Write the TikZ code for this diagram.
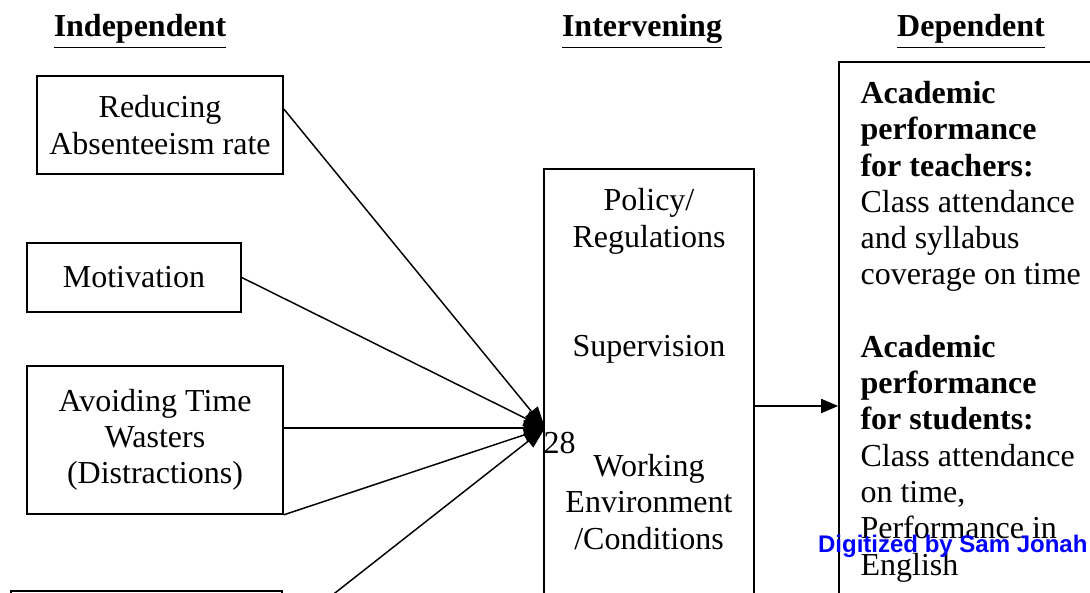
\documentclass[tikz,border=0pt]{standalone}
\usepackage{fontspec}
\setmainfont{Liberation Serif}
\setsansfont{Liberation Sans}
\usetikzlibrary{arrows.meta}

\begin{document}
\begin{tikzpicture}[x=0.375pt,y=-0.375pt,
    font=\fontsize{12}{13.6}\selectfont,
    head/.style={font=\fontsize{12}{13.6}\selectfont\bfseries,inner sep=0pt},
    box/.style={draw,line width=0.6pt,inner sep=0pt,align=center},
    txt/.style={inner sep=0pt,align=center},
    link/.style={line width=0.55pt},
    feed/.style={link,-{Triangle[length=8pt,width=6pt]}},
    lead/.style={link,-{Triangle[length=6.4pt,width=5.3pt]}}]
    \useasboundingbox (0,0) rectangle (1090,592);
    \clip (0,0) rectangle (1090,592);

    % column titles
    \node[head,anchor=base] (indep) at (140,37) {\underline{Independent}};
    \node[head,anchor=base] (interv) at (642,37) {\underline{Intervening}};
    \node[head,anchor=base] (depend) at (971,37) {\underline{Dependent}};

    % independent variables
    \node[box,minimum width=92.25pt,minimum height=36.75pt] (absent) at (160,125) {Reducing\\Absenteeism rate};
    \node[box,minimum width=80.25pt,minimum height=25.9pt] (motiv) at (134,277.5) {Motivation};
    \node[box,minimum width=96pt,minimum height=55.5pt] (waste) at (155,440) {Avoiding Time\\Wasters\\(Distractions)};
    \node[box,minimum width=101.6pt,minimum height=32.25pt] (fourth) at (146.5,634) {};

    % intervening variables (base = last line)
    \node[box,minimum width=78.75pt,minimum height=191.6pt] (inter) at (649,424.5) {};
    \node[txt,anchor=base] (policy) at (649,247) {Policy/\\Regulations};
    \node[txt,anchor=base] (superv) at (649,356) {Supervision};
    \node[txt,anchor=base] (envir) at (649,549) {Working\\Environment\\/Conditions};

    % dependent variable
    \node[box,minimum width=135.4pt,minimum height=239.25pt] (outcome) at (1019.5,381) {};
    \node[txt,align=left,anchor=base west] (perf) at (860,575) {\textbf{Academic}\\\textbf{performance}\\\textbf{for teachers:}\\Class attendance\\and syllabus\\coverage on time\\[13.6pt]
        \textbf{Academic}\\\textbf{performance}\\\textbf{for students:}\\Class attendance\\on time,\\Performance in\\English};

    \node[txt,anchor=base west] (pgno) at (543,453) {28};

    % connectors
    \coordinate (hub) at (545,428);
    \coordinate (lvl) at (0,406);
    \draw[feed] ([yshift=6pt]absent.east) -- (hub);
    \draw[feed] (motiv.east) -- (hub);
    \draw[feed] ([yshift=4.5pt]waste.east) -- (hub);
    \draw[feed] (waste.south east) -- (hub);
    \draw[feed] (fourth.east) -- (hub);
    \draw[lead] (inter.east |- lvl) -- (outcome.west |- lvl);

    \node[inner sep=0pt,anchor=base east,text=blue,font=\sffamily\bfseries\fontsize{9}{10}\selectfont] (mark) at (1088,552) {Digitized by Sam Jonah};
\end{tikzpicture}
\end{document}
